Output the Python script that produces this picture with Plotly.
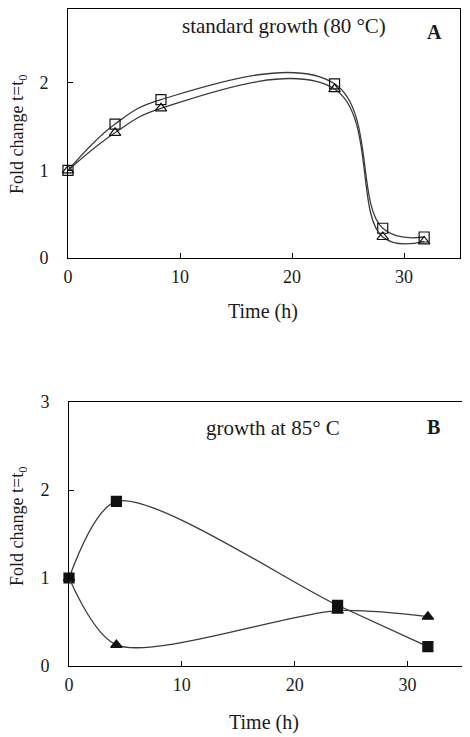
import plotly.graph_objects as go

# Panel A: standard growth (80 °C)
time_a = [0, 4.2, 8.3, 23.8, 28.1, 31.8]
squares_a = [1.0, 1.53, 1.81, 1.99, 0.34, 0.24]
triangles_a = [1.0, 1.43, 1.71, 1.93, 0.24, 0.19]

# Panel B: growth at 85 °C
time_b = [0, 4.2, 23.8, 31.8]
squares_b = [1.0, 1.87, 0.69, 0.22]
triangles_b = [1.0, 0.24, 0.63, 0.56]

x_ticks = [0, 10, 20, 30]
y_ticks_a = [0, 1, 2]
y_ticks_b = [0, 1, 2, 3]

OFF = 8  # page body margin in the browser
W, H = 470 - OFF, 737 - OFF
FONT = "Liberation Serif"
TXT = "#1a1a1a"
LINE = "#3a3a3a"

fig = go.Figure()

def add(x, y, sym, xa, ya, size, smooth):
    fig.add_trace(go.Scatter(
        x=x, y=y, mode="lines+markers", xaxis=xa, yaxis=ya,
        line=dict(shape="spline", smoothing=smooth, color=LINE, width=1.3),
        marker=dict(symbol=sym, size=size, color="#111111",
                    line=dict(color="#111111", width=1.2)),
        showlegend=False, cliponaxis=False))

add(time_a, squares_a, "square-open", "x", "y", 10, 1.15)
add(time_a, triangles_a, "triangle-up-open", "x", "y", 10, 1.15)
add(time_b, squares_b, "square", "x2", "y2", 10, 0.8)
add(time_b, triangles_b, "triangle-up", "x2", "y2", 10, 0.8)

def px(v):
    return min(max((v - OFF) / W, 0), 1)

def py(v):
    return min(max(1 - (v - OFF) / H, 0), 1)

axis_common = dict(showline=True, linecolor="black", linewidth=1, mirror=True,
                   ticks="inside", ticklen=5, tickcolor="black", showgrid=False,
                   zeroline=False, automargin=False,
                   tickfont=dict(family=FONT, size=18, color=TXT))

fig.update_layout(
    width=W, height=H, margin=dict(l=0, r=0, t=0, b=0),
    paper_bgcolor="white", plot_bgcolor="white",
    xaxis=dict(domain=[px(68), px(460)], range=[0, 35], tickvals=x_ticks,
               anchor="y", ticklabelstandoff=2, **axis_common),
    yaxis=dict(domain=[py(258), py(8.5)], range=[0, 2.85], tickvals=y_ticks_a,
               anchor="x", ticklabelstandoff=15, **axis_common),
    xaxis2=dict(domain=[px(69), px(464)], range=[0, 35], tickvals=x_ticks,
                anchor="y2", ticklabelstandoff=2, **axis_common),
    yaxis2=dict(domain=[py(666), py(402)], range=[0, 3], tickvals=y_ticks_b,
                anchor="x2", ticklabelstandoff=15, **axis_common),
)

def ann(text, x, y, size=20, angle=0, bold=False):
    fig.add_annotation(text=f"<b>{text}</b>" if bold else text,
                       x=px(x), y=py(y), xref="paper", yref="paper",
                       showarrow=False, textangle=angle,
                       xanchor="center", yanchor="middle",
                       font=dict(family=FONT, size=size, color=TXT))

ann("standard growth (80 °C)", 284, 26, size=21)
ann("A", 434, 32, bold=True)
ann("Time (h)", 263, 312)
ann("Fold change t=t<sub>0</sub>", 18, 135, size=18, angle=-90)

ann("growth at 85° C", 273, 428, size=21)
ann("B", 433, 427, bold=True)
ann("Time (h)", 264, 722)
ann("Fold change t=t<sub>0</sub>", 18, 527, size=18, angle=-90)

fig.write_html("out.html")
